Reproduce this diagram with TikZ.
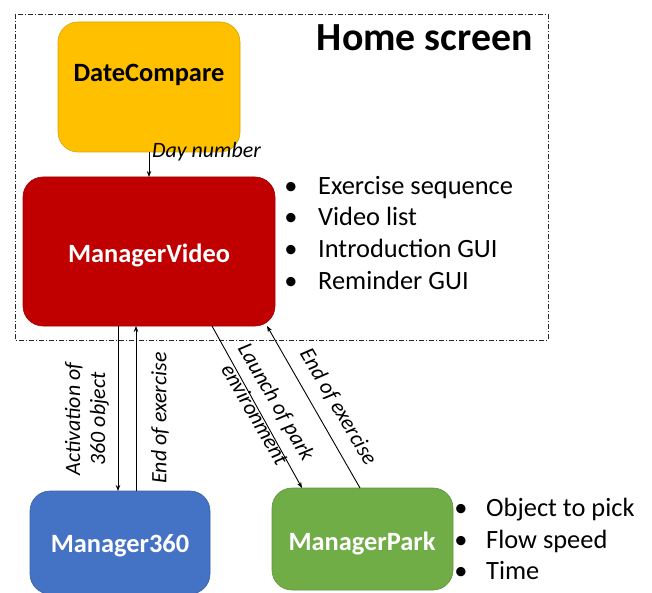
\documentclass[tikz,border=0pt]{standalone}
\usepackage{fontspec}
\setmainfont{Carlito}
\usetikzlibrary{arrows.meta}
\definecolor{dcgold}{HTML}{FFC000}
\definecolor{mvred}{HTML}{C00000}
\definecolor{mblue}{HTML}{4472C4}
\definecolor{mgreen}{HTML}{70AD47}
\begin{document}
\begin{tikzpicture}[x=1bp,y=-1bp,
  box/.style={rounded corners=20bp, draw=#1!85!black, fill=#1, line width=0.6bp},
  boxtext/.style={font=\fontsize{26.5}{30}\selectfont\bfseries, inner sep=0bp},
  flow/.style={-{Stealth[length=6bp,width=4.5bp]}, line width=0.9bp},
  lbl/.style={font=\fontsize{22}{25}\selectfont\itshape, align=center, inner sep=1bp},
  item/.style={font=\fontsize{26.5}{30}\selectfont, anchor=mid west, inner sep=0bp},
  dot/.style={font=\fontsize{26.5}{30}\selectfont, anchor=mid, inner sep=0bp}
]
\useasboundingbox (0,0) rectangle (652,593);

% home screen frame
\draw[line width=0.8bp, draw=black!85, dash pattern=on 5bp off 2bp on 1bp off 2bp] (15,14) rectangle (548,340);
\node[font=\fontsize{40}{44}\selectfont\bfseries, anchor=mid east, inner sep=0bp] (title) at (533,48) {Home screen};

% components
\draw[box=dcgold] (58,22) rectangle (240,152);
\node[boxtext, text=black] (dcl) at (149,75) {DateCompare};
\draw[box=mvred] (23,177) rectangle (275,326);
\node[boxtext, text=white] (mvl) at (149,255) {ManagerVideo};
\draw[box=mblue] (30,491) rectangle (210,594);
\node[boxtext, text=white] (m3l) at (120,546) {Manager360};
\draw[box=mgreen] (272,488) rectangle (453,590);
\node[boxtext, text=white] (mpl) at (362,543) {ManagerPark};

% connector end points on the box borders
\coordinate (dcS) at (149,152);
\coordinate (mvN) at (149,177);
\coordinate (mvA) at (118,326);
\coordinate (mvB) at (136,326);
\coordinate (mvC) at (212,326);
\coordinate (mvD) at (267,326);
\coordinate (m3A) at (118,491);
\coordinate (m3B) at (136,491);
\coordinate (mpA) at (302,488);
\coordinate (mpB) at (360,488);

% connectors
\draw[flow] (dcS) -- (mvN);
\node[lbl, anchor=west] (ldn) at (151,152) {Day number};
\draw[flow] (mvA) -- (m3A);
\draw[flow] (m3B) -- (mvB);
\draw[flow] (mvC) -- (mpA);
\draw[flow] (mpB) -- (mvD);

\node[lbl, rotate=90] (la) at (87,419) {Activation of\\360 object};
\node[lbl, rotate=90] (lb) at (160,418) {End of exercise};
\node[lbl, rotate=-60] (lc) at (266,408) {Launch of park\\environment};
\node[lbl, rotate=-59.5] (ld) at (338,407) {End of exercise};

% attribute lists
\node[dot] (b1) at (291,192) {\textbullet};
\node[item] (t1) at (318,192) {Exercise sequence};
\node[dot] (b2) at (291,223) {\textbullet};
\node[item] (t2) at (318,223) {Video list};
\node[dot] (b3) at (291,255) {\textbullet};
\node[item] (t3) at (318,255) {Introduction GUI};
\node[dot] (b4) at (291,287) {\textbullet};
\node[item] (t4) at (318,287) {Reminder GUI};

\node[dot] (b5) at (461,514) {\textbullet};
\node[item] (t5) at (486,514) {Object to pick};
\node[dot] (b6) at (461,546) {\textbullet};
\node[item] (t6) at (486,546) {Flow speed};
\node[dot] (b7) at (461,577) {\textbullet};
\node[item] (t7) at (486,577) {Time};
\end{tikzpicture}
\end{document}
